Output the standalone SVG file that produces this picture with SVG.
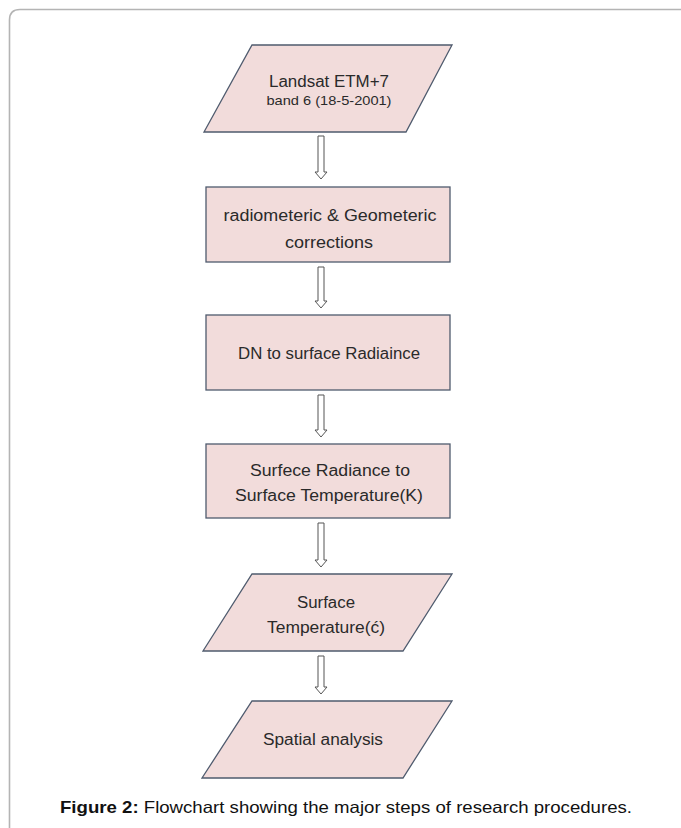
<svg xmlns="http://www.w3.org/2000/svg" width="681" height="828" viewBox="0 0 681 828">
<style>
.shape{fill:#f2dcdb;stroke:#4f5b6e;stroke-width:1.3}
.t{font-family:"Liberation Sans",Arial,sans-serif;fill:#2a2a2a;text-anchor:middle}
.arr{fill:#ffffff;stroke:#555555;stroke-width:1}
.cap{font-family:"Liberation Sans",Arial,sans-serif;fill:#111111;font-size:16.5px}
</style>
<rect width="681" height="828" fill="#ffffff"/>
<path d="M9.5,828 L9.5,20 Q9.5,9.5 20,9.5 L681,9.5" fill="none" stroke="#b4b4b4" stroke-width="1.6"/>
<g id="n1">
<polygon class="shape" points="252,45 452,45 406,132 204,132"/>
<text class="t" x="329" y="87" font-size="16" textLength="120" lengthAdjust="spacingAndGlyphs">Landsat ETM+7</text>
<text class="t" x="329" y="105" font-size="13" textLength="125" lengthAdjust="spacingAndGlyphs">band 6  (18-5-2001)</text>
</g>
<g id="n2">
<rect class="shape" x="206" y="187" width="244" height="75"/>
<text class="t" x="330" y="221" font-size="16" textLength="213" lengthAdjust="spacingAndGlyphs">radiometeric &amp; Geometeric</text>
<text class="t" x="329" y="248" font-size="16" textLength="88" lengthAdjust="spacingAndGlyphs">corrections</text>
</g>
<g id="n3">
<rect class="shape" x="206" y="315" width="244" height="75"/>
<text class="t" x="329" y="359" font-size="16" textLength="182" lengthAdjust="spacingAndGlyphs">DN to surface Radiaince</text>
</g>
<g id="n4">
<rect class="shape" x="206" y="444" width="244" height="74"/>
<text class="t" x="330" y="476" font-size="16" textLength="160" lengthAdjust="spacingAndGlyphs">Surfece Radiance to</text>
<text class="t" x="329" y="501" font-size="16" textLength="188" lengthAdjust="spacingAndGlyphs">Surface Temperature(K)</text>
</g>
<g id="n5">
<polygon class="shape" points="252,574 452,574 403,651 203,651"/>
<text class="t" x="326" y="608" font-size="16" textLength="58" lengthAdjust="spacingAndGlyphs">Surface</text>
<text class="t" x="326" y="633" font-size="16" textLength="118" lengthAdjust="spacingAndGlyphs">Temperature(ć)</text>
</g>
<g id="n6">
<polygon class="shape" points="252,701 452,701 403,778 202,778"/>
<text class="t" x="323" y="745" font-size="16" textLength="120" lengthAdjust="spacingAndGlyphs">Spatial  analysis</text>
</g>
<g id="connectors">
<polygon class="arr" points="318,136 324,136 324,172 327,172 321,179 315,172 318,172"/>
<polygon class="arr" points="318,267 324,267 324,301 327,301 321,308 315,301 318,301"/>
<polygon class="arr" points="318,395 324,395 324,430 327,430 321,437 315,430 318,430"/>
<polygon class="arr" points="318,523 324,523 324,560 327,560 321,567 315,560 318,560"/>
<polygon class="arr" points="318,656 324,656 324,687 327,687 321,694 315,687 318,687"/>
</g>
<text class="cap" x="60" y="813" textLength="572" lengthAdjust="spacingAndGlyphs"><tspan font-weight="bold">Figure 2:</tspan> Flowchart showing the major steps of research procedures.</text>
</svg>
